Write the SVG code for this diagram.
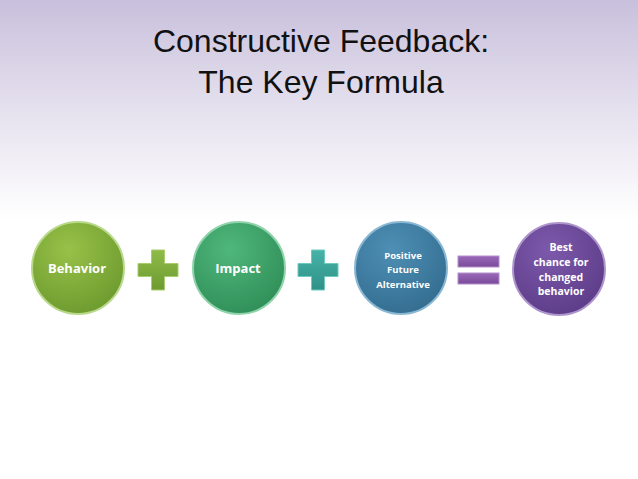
<svg xmlns="http://www.w3.org/2000/svg" width="638" height="479" viewBox="0 0 638 479">
<defs>
<linearGradient id="bg" x1="0" y1="0" x2="0" y2="1">
<stop offset="0" stop-color="#c8c0dc"/>
<stop offset="0.2" stop-color="#e2ddec"/>
<stop offset="0.46" stop-color="#ffffff"/>
<stop offset="1" stop-color="#ffffff"/>
</linearGradient>
<radialGradient id="gGreen" cx="0.4" cy="0.3" r="0.75">
<stop offset="0" stop-color="#98c148"/>
<stop offset="1" stop-color="#6c9a2e"/>
</radialGradient>
<radialGradient id="gTeal" cx="0.4" cy="0.3" r="0.75">
<stop offset="0" stop-color="#4fb77c"/>
<stop offset="1" stop-color="#2f8e57"/>
</radialGradient>
<radialGradient id="gBlue" cx="0.4" cy="0.3" r="0.75">
<stop offset="0" stop-color="#4e8fb5"/>
<stop offset="1" stop-color="#336d90"/>
</radialGradient>
<radialGradient id="gPurple" cx="0.4" cy="0.3" r="0.75">
<stop offset="0" stop-color="#7d59ab"/>
<stop offset="1" stop-color="#5c3c88"/>
</radialGradient>
<linearGradient id="pGreen" x1="0" y1="0" x2="0" y2="1">
<stop offset="0" stop-color="#8fbb48"/>
<stop offset="1" stop-color="#6d9b31"/>
</linearGradient>
<linearGradient id="pTeal" x1="0" y1="0" x2="0" y2="1">
<stop offset="0" stop-color="#48b3a7"/>
<stop offset="1" stop-color="#2f9188"/>
</linearGradient>
<linearGradient id="pPurple" x1="0" y1="0" x2="0" y2="1">
<stop offset="0" stop-color="#9a68b8"/>
<stop offset="1" stop-color="#7a4b9a"/>
</linearGradient>
</defs>
<style>
.title{font-family:"Liberation Sans",Arial,sans-serif;font-size:32px;fill:#111;text-anchor:middle}
.lbl{font-family:"Open Sans","Liberation Sans",sans-serif;font-weight:bold;fill:#fff;text-anchor:middle}
.big{font-size:13px}
.mid{font-size:9.5px}
.small{font-size:10.5px}
.rim{stroke-width:2}
</style>
<rect width="638" height="479" fill="url(#bg)"/>
<g id="title">
<text class="title" x="321" y="52">Constructive Feedback:</text>
<text class="title" x="321" y="93">The Key Formula</text>
</g>
<g id="connectors">
<g id="plus1"><path d="M151.5 250h13v13.5h13.5v13h-13.5v13.5h-13v-13.5h-13.5v-13h13.5z" fill="url(#pGreen)" stroke="#a9cc6c" stroke-width="1"/></g>
<g id="plus2"><path d="M311.5 250h13v13.5h13.5v13h-13.5v13.5h-13v-13.5h-13.5v-13h13.5z" fill="url(#pTeal)" stroke="#6ccabf" stroke-width="1"/></g>
<g id="equals">
<rect x="458" y="256" width="41" height="11" fill="url(#pPurple)" stroke="#b48fcc" stroke-width="1"/>
<rect x="458" y="273" width="41" height="11" fill="url(#pPurple)" stroke="#b48fcc" stroke-width="1"/>
</g>
</g>
<g id="behavior">
<circle cx="78" cy="268" r="46" fill="url(#gGreen)" stroke="#b8d88a" class="rim"/>
<text class="lbl big" x="77" y="273">Behavior</text>
</g>
<g id="impact">
<circle cx="239" cy="268" r="46" fill="url(#gTeal)" stroke="#8fd3ab" class="rim"/>
<text class="lbl big" x="238" y="273">Impact</text>
</g>
<g id="positive">
<circle cx="401" cy="268" r="46" fill="url(#gBlue)" stroke="#8ab8d3" class="rim"/>
<text class="lbl mid" x="403" y="259">Positive</text>
<text class="lbl mid" x="403" y="273">Future</text>
<text class="lbl mid" x="403" y="288">Alternative</text>
</g>
<g id="best">
<circle cx="559" cy="269" r="46" fill="url(#gPurple)" stroke="#ad95cc" class="rim"/>
<text class="lbl small" x="561" y="251">Best</text>
<text class="lbl small" x="561" y="266">chance for</text>
<text class="lbl small" x="561" y="281">changed</text>
<text class="lbl small" x="561" y="295">behavior</text>
</g>
</svg>
